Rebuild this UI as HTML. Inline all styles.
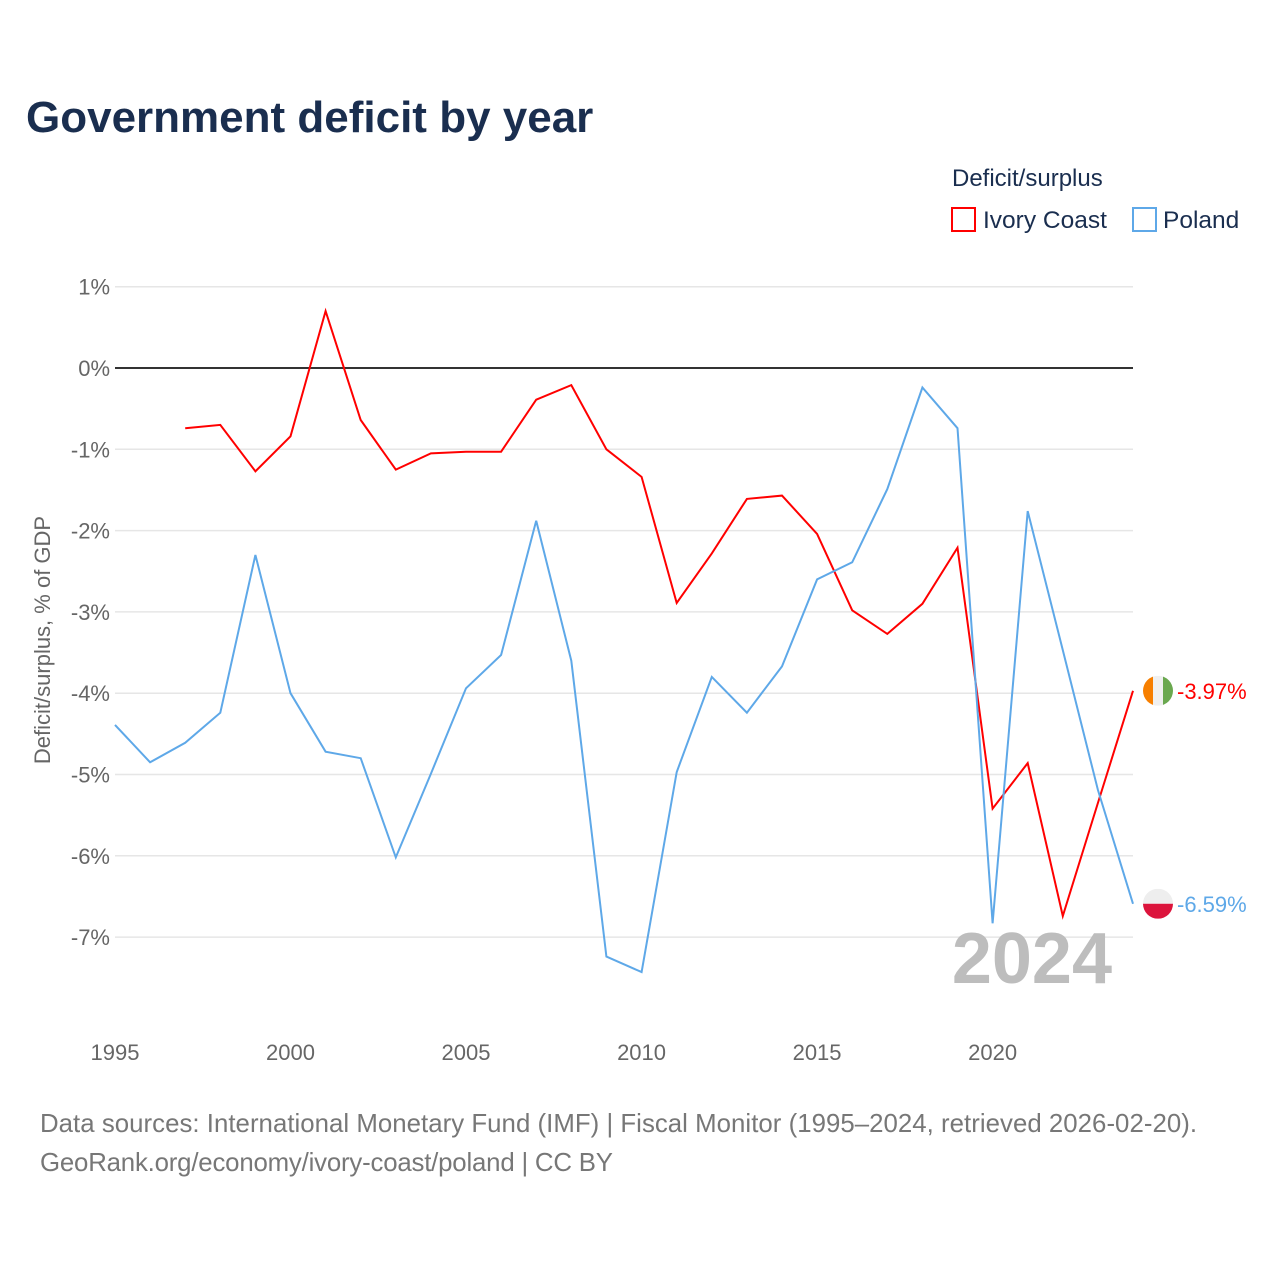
<!DOCTYPE html>
<html><head><meta charset="utf-8"><style>
body{margin:0;background:#fff;font-family:"Liberation Sans",sans-serif;}
svg text{font-family:"Liberation Sans",sans-serif;}
</style></head><body>
<svg width="1280" height="1280" xmlns="http://www.w3.org/2000/svg">
<text x="26" y="132" font-size="44" font-weight="bold" fill="#1a2e4f">Government deficit by year</text>
<text x="952" y="186" font-size="24" fill="#1a2e4f">Deficit/surplus</text>
<g><rect x="952" y="208" width="23" height="23" fill="none" stroke="#ff0000" stroke-width="2"/><text x="983" y="228" font-size="24.5" fill="#1a2e4f">Ivory Coast</text></g>
<g><rect x="1133" y="208" width="23" height="23" fill="none" stroke="#5ea8e8" stroke-width="2"/><text x="1163" y="228" font-size="24.5" fill="#1a2e4f">Poland</text></g>
<g id="grid"></g><g id="series"></g>
<text x="1112" y="983" font-size="72" font-weight="bold" fill="#bdbdbd" text-anchor="end">2024</text>
<text transform="translate(50,640) rotate(-90)" font-size="22" fill="#666" text-anchor="middle">Deficit/surplus, % of GDP</text>
<text x="40" y="1132" font-size="25.8" fill="#777" textLength="1157">Data sources: International Monetary Fund (IMF) | Fiscal Monitor (1995–2024, retrieved 2026-02-20).</text>
<text x="40" y="1171" font-size="25.8" fill="#777" textLength="573">GeoRank.org/economy/ivory-coast/poland | CC BY</text>
</svg>
<script>
const years=[];for(let y=1995;y<=2024;y++)years.push(y);
const yTicks=[1,0,-1,-2,-3,-4,-5,-6,-7];
const xTicks=[1995,2000,2005,2010,2015,2020];
const ivoryCoast=[null,null,-0.74,-0.70,-1.27,-0.84,0.70,-0.64,-1.25,-1.05,-1.03,-1.03,-0.39,-0.21,-1.00,-1.34,-2.89,-2.28,-1.61,-1.57,-2.04,-2.98,-3.27,-2.90,-2.21,-5.42,-4.86,-6.74,-5.35,-3.97];
const poland=[-4.39,-4.85,-4.61,-4.24,-2.30,-4.00,-4.72,-4.80,-6.02,-4.99,-3.94,-3.53,-1.88,-3.60,-7.24,-7.43,-4.97,-3.80,-4.24,-3.67,-2.60,-2.39,-1.49,-0.24,-0.74,-6.83,-1.76,-3.47,-5.19,-6.59];
const NS="http://www.w3.org/2000/svg";
const X=y=>115+(y-1995)*(1133-115)/29;
const Y=v=>368-v*81.3;
function mk(t,a,p){const e=document.createElementNS(NS,t);for(const k in a)e.setAttribute(k,a[k]);p.appendChild(e);return e;}
const g=document.getElementById('grid'),s=document.getElementById('series');
yTicks.forEach(v=>{
 const l=mk('line',{x1:115,x2:1133,y1:Y(v),y2:Y(v),stroke:v===0?'#333':'#e6e6e6','stroke-width':v===0?2:1.5},g);
 
 
 const t=mk('text',{x:110,y:Y(v)+8,'font-size':22,fill:'#666','text-anchor':'end'},g);
 t.textContent=v+'%';
 
 
});
xTicks.forEach(v=>{
 const t=mk('text',{x:X(v),y:1060,'font-size':22,fill:'#666','text-anchor':'middle'},g);
 t.textContent=v;
 
 
});
function line(data,color,name){
 let d='';data.forEach((v,i)=>{if(v===null)return;d+=(d?'L':'M')+X(years[i]).toFixed(1)+','+Y(v).toFixed(1);});
 const p=mk('path',{d:d,fill:'none',stroke:color,'stroke-width':2},s);
 
 
 const last=data[data.length-1];
 const t=mk('text',{x:1177,y:Y(last)+8,'font-size':22,fill:color},s);
 t.textContent=last.toFixed(2)+'%';
 
 
 return Y(last);
}
const yi=line(ivoryCoast,'#ff0000','ivory-coast');
const yp=line(poland,'#5ea8e8','poland');
const cx=1158;
const f1=mk('g',{},s);


const c1=mk('clipPath',{id:'c1'},f1);mk('circle',{cx:cx,cy:yi,r:15},c1);
const gi=mk('g',{'clip-path':'url(#c1)'},f1);
mk('rect',{x:cx-15,y:yi-15,width:10,height:30,fill:'#f77f00'},gi);
mk('rect',{x:cx-5,y:yi-15,width:10,height:30,fill:'#f0f0f0'},gi);
mk('rect',{x:cx+5,y:yi-15,width:10,height:30,fill:'#6aa84f'},gi);
const f2=mk('g',{},s);


const c2=mk('clipPath',{id:'c2'},f2);mk('circle',{cx:cx,cy:yp,r:15},c2);
const gp=mk('g',{'clip-path':'url(#c2)'},f2);
mk('rect',{x:cx-15,y:yp-15,width:30,height:15,fill:'#eeeeee'},gp);
mk('rect',{x:cx-15,y:yp,width:30,height:15,fill:'#dc143c'},gp);
</script>
</body></html>
